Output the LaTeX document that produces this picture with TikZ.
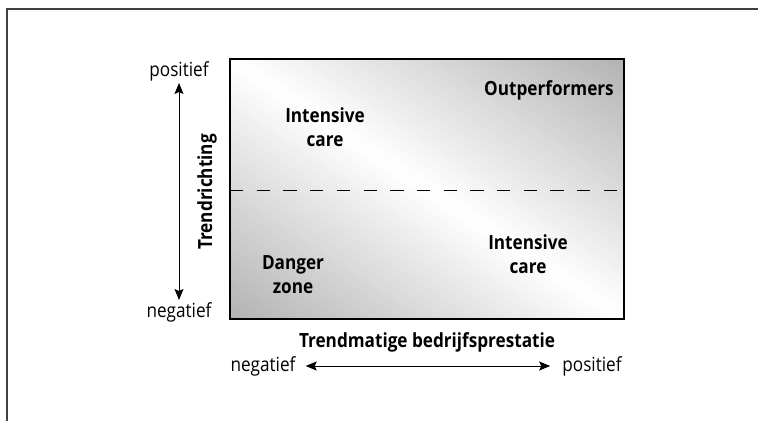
\documentclass[tikz,border=0pt]{standalone}
\usepackage{fontspec}
\setmainfont{Open Sans}[FakeStretch=0.88]
\usetikzlibrary{arrows.meta}
\tikzset{
  lbl/.style={inner sep=0pt, font=\fontsize{19.5}{24}\selectfont, align=center},
  blbl/.style={lbl, font=\fontsize{19.5}{24}\selectfont\bfseries},
  axisarrow/.style={line width=1pt, {Stealth[length=11pt,width=9pt,inset=2pt]}-{Stealth[length=11pt,width=9pt,inset=2pt]}},
  framestyle/.style={line width=1.2pt, draw=black!75},
  divider/.style={line width=1pt, dash pattern=on 13.35pt off 13.35pt}
}
\begin{document}
\begin{tikzpicture}[x=1pt,y=-1pt]
\useasboundingbox (0,0) rectangle (758,421);
% outer frame (open at right and bottom)
\draw[framestyle] (7,421) |- (758,9);
% matrix box
\coordinate (boxtl) at (230,59);
\coordinate (boxbr) at (624,319);
\coordinate (boxc) at (427,189);
\begin{scope}
  \clip (boxtl) rectangle (boxbr);
  \begin{scope}[shift={(boxc)}, rotate=-33.4]
    \foreach \k in {0,...,99} {
      \pgfmathsetmacro\p{30*abs(\k+0.5-50)/50}
      \pgfmathsetmacro\ya{-217+4.34*\k}
      \pgfmathsetmacro\yb{\ya+4.8}
      \fill[black!\p] (-340,\ya) rectangle (340,\yb);
    }
  \end{scope}
\end{scope}
\draw[line width=1.3pt] (boxtl) rectangle (boxbr);
\coordinate (dashL) at (230,190);
\coordinate (dashR) at (617,190);
\draw[divider] (dashL) -- (dashR);
% quadrant labels
\node[blbl] (ic1) at (325,127.5) {Intensive\\care};
\node[blbl] (outp) at (549,90) {Outperformers};
\node[blbl] (dz) at (293,275) {Danger\\zone};
\node[blbl] (ic2) at (528,254.5) {Intensive\\care};
% vertical axis
\node[lbl] (ypos) at (179,71) {positief};
\node[lbl] (yneg) at (179,312) {negatief};
\node[blbl, rotate=90] (ytitle) at (207,192) {Trendrichting};
\draw[axisarrow, shorten <=2pt, shorten >=2pt] (yneg) -- (ypos);
% horizontal axis
\node[blbl] (xtitle) at (427,342) {Trendmatige bedrijfsprestatie};
\node[lbl] (xneg) at (263,366) {negatief};
\node[lbl] (xpos) at (592,366) {positief};
\draw[axisarrow, shorten <=10pt, shorten >=12pt] (xneg) -- (xpos);
\end{tikzpicture}
\end{document}
